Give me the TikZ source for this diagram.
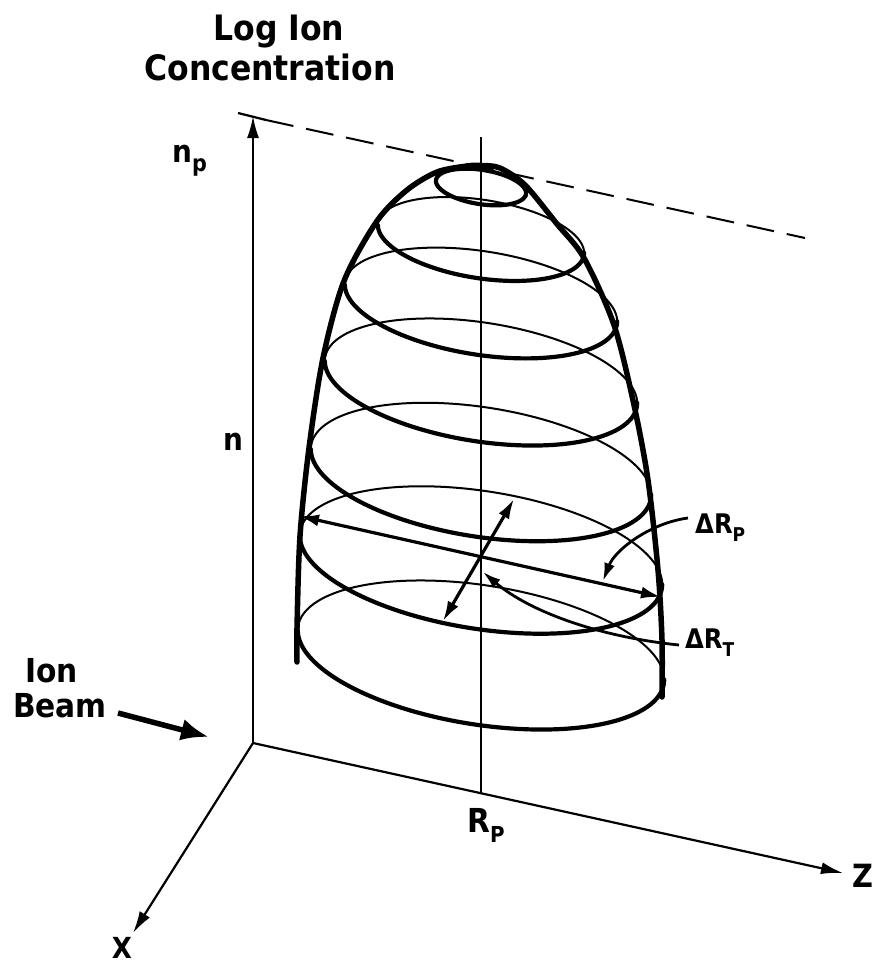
\documentclass[tikz,border=0pt]{standalone}
\usepackage{fontspec}
\setmainfont{DejaVu Sans Condensed}[BoldFont={DejaVu Sans Condensed Bold}]
\usetikzlibrary{arrows.meta}
\newcommand\lowsub[2]{\raisebox{-0.32em}{\fontsize{#1}{#1}\selectfont #2}}
\begin{document}
\begin{tikzpicture}[x=1pt,y=-1pt,
  axis/.style={line width=2.2pt},
  axisarrow/.style={axis,-{Latex[length=22pt,width=12pt]}},
  backln/.style={line width=2pt},
  frontln/.style={line width=4.2pt,line cap=round},
  outln/.style={line width=5.5pt,line cap=round},
  dblarrow/.style={line width=3.2pt,{Latex[length=20pt,width=12pt]}-{Latex[length=20pt,width=12pt]}},
  leader/.style={line width=2.8pt,-{Latex[length=18pt,width=11pt]}},
  lbl/.style={inner sep=0pt,anchor=base west},
  every node/.style={font=\bfseries},
]
\useasboundingbox (0,0) rectangle (876,964);

% coordinates
\coordinate (O) at (253,743);
\coordinate (ntop) at (253,116);
\coordinate (Xend) at (133,933);
\coordinate (Zend) at (843,873);
\coordinate (Rtop) at (481,137);
\coordinate (Rbase) at (481,793);
\coordinate (tickL) at (238,113);
\coordinate (tickR) at (266,120);
\coordinate (dashEnd) at (805,238);

% axes
\draw[axisarrow] (O) -- (ntop);
\draw[axis] (tickL) -- (tickR);
\draw[line width=2pt,dash pattern=on 28pt off 13pt] (tickR) -- (dashEnd);
\draw[axisarrow] (O) -- (Xend);
\draw[axisarrow] (O) -- (Zend);
\draw[line width=1.6pt] (Rtop) -- (Rbase);

% ellipses: back halves (thin)
\foreach \c/\a in {239/103, 303/136, 382/156, 472/170, 560/181, 655/183}{
  \draw[backln] plot[domain=167.4:347.4, samples=90]
    ({481+\a*(0.977*cos(\x)-0.2185*sin(\x))},{\c+\a*(0.215*cos(\x)+0.346*sin(\x))});
}
% front halves (thick)
\foreach \c/\a in {239/103, 303/136, 382/156, 472/170, 560/181, 655/183}{
  \draw[frontln] plot[domain=-12.6:167.4, samples=90]
    ({481+\a*(0.977*cos(\x)-0.2185*sin(\x))},{\c+\a*(0.215*cos(\x)+0.346*sin(\x))});
}
% top small ellipse
\draw[frontln] plot[domain=0:360, samples=90]
    ({481+45*(0.977*cos(\x)-0.2185*sin(\x))},{187+45*(0.215*cos(\x)+0.346*sin(\x))}) -- cycle;

% outline
\draw[outln] plot[smooth] coordinates {(297,662) (297,628) (300,536) (309,448) (323,358) (344,281)
  (377,221) (407,190) (437,172) (467,166) (481,165.5) (500,168) (525,185) (557,224) (584,258)
  (614,325) (634,405) (648,480) (658,570) (662,640) (662,697)};

% Delta R arrows
\coordinate (rpL) at (299,516);
\coordinate (rpR) at (661,597);
\draw[dblarrow] (rpL) -- (rpR);
\coordinate (rtU) at (514,499);
\coordinate (rtD) at (443,621);
\draw[dblarrow] (rtU) -- (rtD);

% labels
\node[inner sep=0pt,anchor=base,font=\bfseries\fontsize{35}{40}\selectfont] (t1) at (279,40) {Log Ion};
\node[inner sep=0pt,anchor=base,font=\bfseries\fontsize{35}{40}\selectfont] (t2) at (270,80) {Concentration};
\node[lbl,font=\bfseries\fontsize{31}{36}\selectfont] (np) at (172,162) {n\lowsub{23}{p}};
\node[lbl,font=\bfseries\fontsize{31}{36}\selectfont] (n) at (223,450) {n};
\node[lbl,font=\bfseries\fontsize{33}{38}\selectfont] (ion) at (25,682) {Ion};
\node[lbl,font=\bfseries\fontsize{33}{38}\selectfont] (beam) at (13,717) {Beam};
\node[inner sep=0pt,font=\bfseries\fontsize{29}{34}\selectfont] (xl) at (122,948) {X};
\node[lbl,font=\bfseries\fontsize{32}{36}\selectfont] (zl) at (852,887) {Z};
\node[lbl,font=\bfseries\fontsize{33}{38}\selectfont] (rp) at (467,832) {R\lowsub{22}{P}};
\node[lbl,font=\bfseries\fontsize{27}{32}\selectfont] (drp) at (695,533) {ΔR\lowsub{19}{P}};
\node[lbl,font=\bfseries\fontsize{27}{32}\selectfont] (drt) at (685,648) {ΔR\lowsub{19}{T}};

% ion beam arrow
\coordinate (beamS) at (118,713);
\coordinate (beamE) at (209,737);
\draw[line width=5.5pt,-{Latex[length=28pt,width=22pt]}] (beamS) -- (beamE);

% leaders
\coordinate (ldP) at (688,518);
\coordinate (tipP) at (603,581);
\draw[leader] (ldP) .. controls (650,523) and (615,550) .. (tipP);
\coordinate (ldT) at (679,645);
\coordinate (tipT) at (483,572);
\draw[leader] (ldT) .. controls (600,637) and (530,612) .. (tipT);
\end{tikzpicture}
\end{document}
